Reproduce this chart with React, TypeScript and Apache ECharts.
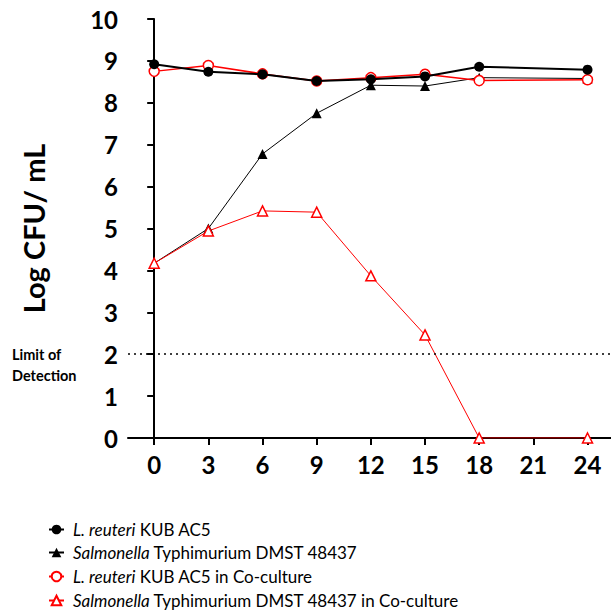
import React, { useEffect, useRef } from "react";
import * as echarts from "echarts";

const hours = [0, 3, 6, 9, 12, 15, 18, 24];
const xTicks = [0, 3, 6, 9, 12, 15, 18, 21, 24];
const reuteri = [8.92, 8.74, 8.68, 8.52, 8.56, 8.63, 8.86, 8.79];
const salmonella = [4.17, 5.0, 6.78, 7.75, 8.42, 8.4, 8.6, 8.58];
const reuteriCo = [8.75, 8.89, 8.69, 8.52, 8.6, 8.68, 8.53, 8.55];
const salmonellaCo = [4.17, 4.94, 5.42, 5.39, 3.87, 2.46, 0, 0];
const detectionLimit = 2;
const names = [
  "L. reuteri KUB AC5",
  "Salmonella Typhimurium DMST 48437",
  "L. reuteri KUB AC5 in Co-culture",
  "Salmonella Typhimurium DMST 48437 in Co-culture",
];

const FONT = "Lato, 'Open Sans', sans-serif";

const pairs = (ys: number[]) => hours.map((h, i) => [h, ys[i]]);

const legendTops = [516, 539, 563, 587];

export default function App() {
  const ref = useRef<HTMLDivElement>(null);
  useEffect(() => {
    if (!ref.current) return;
    const chart = echarts.init(ref.current, null, { renderer: "svg" });
    const legends = names.map((n, i) => ({
      orient: "vertical",
      left: 43,
      top: legendTops[i],
      itemWidth: 15,
      itemHeight: 12,
      data: [n],
      formatter: (s: string) => {
        if (s.startsWith("L. reuteri")) return "{i|L. reuteri}" + s.slice(10);
        if (s.startsWith("Salmonella")) return "{i|Salmonella}" + s.slice(10);
        return s;
      },
      textStyle: {
        color: "#000",
        fontSize: 17,
        fontFamily: FONT,
        padding: [0, 0, 0, 4],
        rich: { i: { fontStyle: "italic", fontSize: 17, fontFamily: FONT, color: "#000" } },
      },
    }));
    chart.setOption({
      animation: false,
      textStyle: { fontFamily: FONT },
      grid: { left: 128, top: 19, right: 0, bottom: 174, containLabel: false },
      xAxis: {
        type: "value",
        min: -1.45,
        max: 25.3,
        axisLine: { onZero: false, lineStyle: { color: "#000", width: 2 } },
        axisTick: {
          customValues: xTicks,
          length: 7,
          lineStyle: { color: "#000", width: 2 },
        },
        axisLabel: {
          customValues: xTicks,
          color: "#000",
          fontSize: 24,
          fontWeight: "bold",
          fontFamily: FONT,
          margin: 14,
        },
        splitLine: { show: false },
      },
      yAxis: {
        type: "value",
        min: 0,
        max: 10,
        interval: 1,
        name: "Log CFU/ mL",
        nameLocation: "middle",
        nameRotate: 90,
        nameGap: 80,
        nameTextStyle: { color: "#000", fontSize: 29, fontWeight: "bold", fontFamily: FONT },
        axisLine: { show: true, lineStyle: { color: "#000", width: 2 } },
        axisTick: { show: true, length: 7, lineStyle: { color: "#000", width: 2 } },
        axisLabel: {
          color: "#000",
          fontSize: 24,
          fontWeight: "bold",
          fontFamily: FONT,
          margin: 10,
        },
        splitLine: { show: false },
      },
      legend: legends,
      graphic: [
        {
          type: "text",
          left: 12,
          top: 344,
          style: {
            text: "Limit of\nDetection",
            fontSize: 14.5,
            fontWeight: "bold",
            fontFamily: FONT,
            lineHeight: 21,
            fill: "#000",
          },
        },
      ],
      series: [
        {
          name: names[0],
          type: "line",
          data: pairs(reuteri),
          symbol: "circle",
          symbolSize: 10,
          itemStyle: { color: "#000" },
          lineStyle: { color: "#000", width: 2 },
          z: 4,
          markLine: {
            silent: true,
            symbol: "none",
            label: { show: false },
            lineStyle: { color: "#000", type: [2, 4], width: 1.5 },
            data: [{ yAxis: detectionLimit }],
          },
        },
        {
          name: names[1],
          type: "line",
          data: pairs(salmonella),
          symbol: "triangle",
          symbolSize: 10,
          itemStyle: { color: "#000" },
          lineStyle: { color: "#000", width: 1 },
          z: 3,
        },
        {
          name: names[2],
          type: "line",
          data: pairs(reuteriCo),
          symbol: "circle",
          symbolSize: 10,
          itemStyle: { color: "#fff", borderColor: "#ff0000", borderWidth: 1.5 },
          lineStyle: { color: "#ff0000", width: 1.5 },
          z: 3,
        },
        {
          name: names[3],
          type: "line",
          data: pairs(salmonellaCo),
          symbol: "triangle",
          symbolSize: 10,
          itemStyle: { color: "#fff", borderColor: "#ff0000", borderWidth: 1.5 },
          lineStyle: { color: "#ff0000", width: 1 },
          z: 3,
        },
      ],
    });
    return () => chart.dispose();
  }, []);
  return (
    <div
      ref={ref}
      style={{ position: "absolute", left: 0, top: 0, width: 611, height: 612, background: "#fff" }}
    />
  );
}
